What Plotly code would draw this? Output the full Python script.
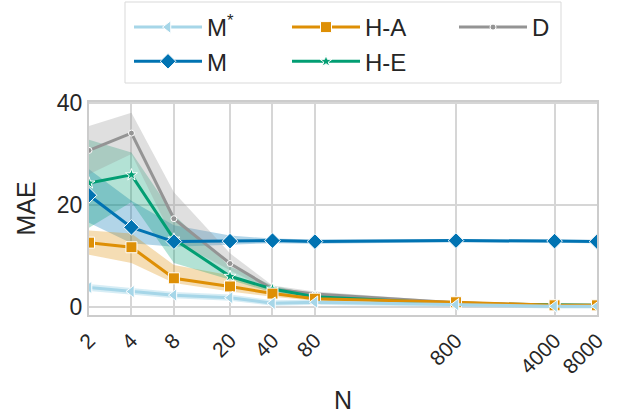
import numpy as np
import plotly.graph_objects as go

N = [2, 4, 8, 20, 40, 80, 800, 4000, 8000]
tick_labels = ["2", "4", "8", "20", "40", "80", "800", "4000", "8000"]

series_names = ["M<sup>*</sup>", "M", "H-A", "H-E", "D"]

mstar_mean = [3.8, 3.0, 2.3, 1.8, 0.7, 0.9, 0.4, 0.1, 0.1]
mstar_lo = [3.1, 2.4, 1.7, 1.2, 0.2, 0.4, 0.0, -0.3, -0.3]
mstar_hi = [4.5, 3.7, 2.9, 2.4, 1.3, 1.4, 0.9, 0.5, 0.5]

m_mean = [21.9, 15.6, 12.8, 12.9, 13.0, 12.8, 13.0, 12.9, 12.8]
m_lo = [16.5, 12.5, 11.8, 12.2, 12.5, 12.4, 12.7, 12.6, 12.5]
m_hi = [27.0, 20.8, 16.0, 14.0, 13.4, 13.2, 13.3, 13.2, 13.1]

ha_mean = [12.6, 11.7, 5.6, 4.0, 2.6, 1.6, 0.9, 0.3, 0.3]
ha_lo = [10.2, 8.6, 4.7, 3.0, 2.0, 1.2, 0.6, 0.2, 0.2]
ha_hi = [15.0, 14.4, 8.2, 6.2, 3.2, 2.0, 1.1, 0.5, 0.5]

he_mean = [24.3, 25.9, 13.3, 6.0, 3.5, 2.0, 0.6, 0.3, 0.3]
he_lo = [15.5, 20.6, 8.6, 5.3, 2.8, 1.6, 0.4, 0.2, 0.2]
he_hi = [32.8, 30.3, 18.0, 7.9, 4.2, 2.4, 0.8, 0.4, 0.4]

d_mean = [30.7, 34.1, 17.3, 8.5, 3.5, 2.5, 0.8, 0.3, 0.3]
d_lo = [26.0, 30.0, 13.0, 7.2, 3.0, 2.0, 0.5, 0.2, 0.2]
d_hi = [35.5, 38.1, 22.5, 10.5, 4.2, 3.0, 1.0, 0.4, 0.4]

colors = ["#a6d6e8", "#0173b2", "#de8f05", "#029e73", "#949494"]
symbols = ["triangle-left", "diamond", "square", "star", "circle"]
sizes = [11, 12, 11, 9, 6]
legend_ids = ["legend", "legend", "legend2", "legend2", "legend3"]

means = [mstar_mean, m_mean, ha_mean, he_mean, d_mean]
los = [mstar_lo, m_lo, ha_lo, he_lo, d_lo]
his = [mstar_hi, m_hi, ha_hi, he_hi, d_hi]
alphas = [0.45, 0.3, 0.3, 0.3, 0.3]


def rgba(hexc, a):
    h = hexc.lstrip("#")
    r, g, b = int(h[0:2], 16), int(h[2:4], 16), int(h[4:6], 16)
    return f"rgba({r},{g},{b},{a})"


fig = go.Figure()

for i in range(5):
    fig.add_trace(go.Scatter(
        x=N + N[::-1], y=his[i] + los[i][::-1],
        fill="toself", fillcolor=rgba(colors[i], alphas[i]),
        line=dict(width=0), mode="lines",
        showlegend=False, hoverinfo="skip"))

for i in [4, 3, 2, 1, 0]:
    fig.add_trace(go.Scatter(
        x=N, y=means[i], name=series_names[i], mode="lines+markers",
        line=dict(color=colors[i], width=3),
        marker=dict(symbol=symbols[i], size=sizes[i], color=colors[i],
                    line=dict(color="white", width=1)),
        legend=legend_ids[i], legendrank=i + 1))

font_family = "Liberation Sans, Arial, sans-serif"
txt = "#262626"

# plot area in pixels: x 89..597, y 102..315
def px_x(p):
    return (p - 89) / 508.0


def px_y(p):
    return (315 - p) / 213.0


leg_common = dict(orientation="v", yanchor="top", xanchor="left",
                  font=dict(size=24, color=txt), borderwidth=0,
                  bgcolor="rgba(0,0,0,0)", itemwidth=68,
                  traceorder="normal")

fig.update_layout(
    width=641, height=417,
    margin=dict(l=89, r=44, t=102, b=102, autoexpand=False),
    paper_bgcolor="white", plot_bgcolor="white",
    font=dict(family=font_family, color=txt, size=22),
    legend=dict(x=px_x(129), y=px_y(5), **leg_common),
    legend2=dict(x=px_x(287), y=px_y(5), **leg_common),
    legend3=dict(x=px_x(454), y=px_y(5), **leg_common),
    showlegend=True,
    shapes=[dict(type="rect", xref="paper", yref="paper",
                 x0=px_x(125), x1=px_x(561), y0=px_y(83), y1=px_y(2),
                 line=dict(color="#d9d9d9", width=1), fillcolor="rgba(0,0,0,0)",
                 layer="above")],
)

fig.update_xaxes(
    type="log", range=[np.log10(2), np.log10(8000)],
    tickvals=N, ticktext=tick_labels, tickangle=-45,
    showgrid=True, gridcolor="#d6d6d6", gridwidth=1.5,
    showline=True, linecolor="#cccccc", linewidth=2, mirror=True,
    ticks="", tickfont=dict(size=21, color=txt), ticklabelstandoff=3,
    title=dict(text="N", font=dict(size=25, color=txt), standoff=15),
    zeroline=False)

fig.update_yaxes(
    range=[-1.6, 40.2], tickvals=[0, 20, 40],
    showgrid=True, gridcolor="#d6d6d6", gridwidth=1.5,
    showline=True, linecolor="#cccccc", linewidth=2, mirror=True,
    ticks="", tickfont=dict(size=23, color=txt),
    title=dict(text="MAE", font=dict(size=25, color=txt), standoff=14),
    zeroline=False)

fig.write_html("out.html")
